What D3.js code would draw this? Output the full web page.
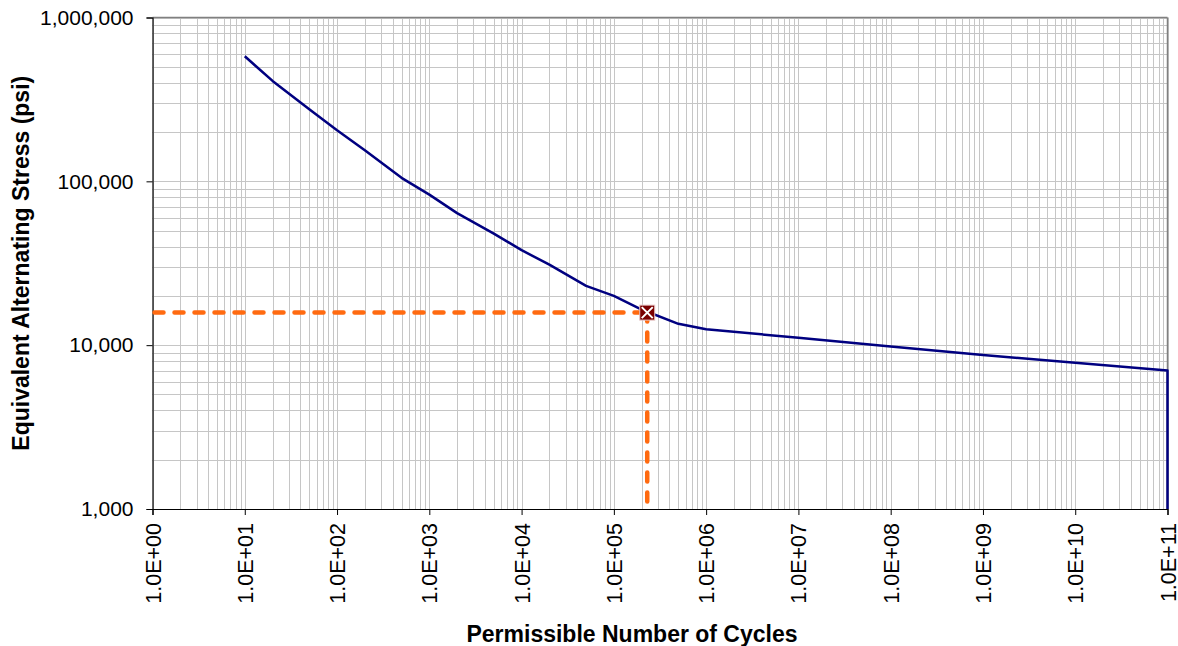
<!DOCTYPE html>
<html>
<head>
<meta charset="utf-8">
<script src="https://cdn.jsdelivr.net/npm/d3@7"></script>
<style>
  body { margin: 0; background: #fff; }
  svg { display: block; font-family: Arial, "Liberation Sans", sans-serif; }
</style>
</head>
<body>
<div id="chart"></div>
<script>
// fatigue curve points (cycles, psi)
var cycles = [10, 20, 50, 100, 200, 500, 1e3, 2e3, 5e3, 1e4, 2e4, 5e4, 1e5, 2e5, 5e5, 1e6,
              1e7, 1e8, 1e9, 1e10, 1e11, 1e11];
var stress = [580000, 410000, 275000, 205000, 155000, 105000, 83000, 64000, 48000, 38000,
              31000, 23000, 20000, 16500, 13500, 12500, 11100, 9800, 8700, 7800, 7000, 1000];

// design point
var pointCycles = [230000];
var pointStress = [15800];

var xTickValues = [1e0, 1e1, 1e2, 1e3, 1e4, 1e5, 1e6, 1e7, 1e8, 1e9, 1e10, 1e11];
var yTickValues = [1000, 10000, 100000, 1000000];

var width = 1178, height = 646;
var margin = {top: 17.5, right: 10.5, bottom: 137, left: 152.5};

var svg = d3.select('#chart').append('svg')
            .attr('width', width)
            .attr('height', height);

var x = d3.scaleLog().domain([1, 1e11]).range([margin.left, width - margin.right]);
var y = d3.scaleLog().domain([1000, 1e6]).range([height - margin.bottom, margin.top]);

// --- grid lines (major + minor per decade)
var xGrid = [], yGrid = [];
for (var e = 0; e < 11; e++) {
  for (var k = 1; k < 10; k++) xGrid.push(k * Math.pow(10, e));
}
xGrid.push(1e11);
for (var e = 3; e < 6; e++) {
  for (var k = 1; k < 10; k++) yGrid.push(k * Math.pow(10, e));
}
yGrid.push(1e6);

svg.append('g').selectAll('line').data(xGrid).enter().append('line')
   .attr('x1', d => Math.round(x(d)) + 0.5).attr('x2', d => Math.round(x(d)) + 0.5)
   .attr('y1', y(1000)).attr('y2', y(1e6))
   .attr('stroke', '#c6c6c6').attr('stroke-width', 1);

svg.append('g').selectAll('line').data(yGrid).enter().append('line')
   .attr('y1', d => Math.round(y(d)) + 0.5).attr('y2', d => Math.round(y(d)) + 0.5)
   .attr('x1', x(1)).attr('x2', x(1e11))
   .attr('stroke', '#c6c6c6').attr('stroke-width', 1);

// plot frame: top and right gray
svg.append('line').attr('x1', x(1)).attr('x2', x(1e11)).attr('y1', y(1e6)).attr('y2', y(1e6))
   .attr('stroke', '#808080').attr('stroke-width', 1.5);
svg.append('line').attr('x1', x(1e11)).attr('x2', x(1e11)).attr('y1', y(1e6)).attr('y2', y(1000))
   .attr('stroke', '#808080').attr('stroke-width', 1.5);

// --- axes
var xAxis = svg.append('g')
   .attr('transform', 'translate(0,' + y(1000) + ')')
   .call(d3.axisBottom(x).tickValues(xTickValues).tickSizeOuter(0).tickSize(6)
           .tickFormat(d => '1.0E+' + String(Math.round(Math.log10(d))).padStart(2, '0')));
xAxis.select('.domain').attr('stroke', '#000').attr('stroke-width', 1.2);
xAxis.selectAll('.tick line').attr('stroke', '#000');
xAxis.selectAll('text')
     .attr('font-size', 21.5).attr('fill', '#000')
     .attr('text-anchor', 'end')
     .attr('transform', 'rotate(-90)')
     .attr('x', -14).attr('y', 0).attr('dy', '0.35em');

var yAxis = svg.append('g')
   .attr('transform', 'translate(' + x(1) + ',0)')
   .call(d3.axisLeft(y).tickValues(yTickValues).tickSizeOuter(0).tickSize(6).tickPadding(13)
           .tickFormat(d3.format(',')));
yAxis.select('.domain').attr('stroke', '#000').attr('stroke-width', 1.2);
yAxis.selectAll('.tick line').attr('stroke', '#000');
yAxis.selectAll('text').attr('font-size', 21).attr('fill', '#000');

// --- guide lines to the design point
var px = x(pointCycles[0]), py = y(pointStress[0]);
svg.append('line')
   .attr('x1', x(1) + 2).attr('x2', px).attr('y1', py).attr('y2', py)
   .attr('stroke', '#ff6a10').attr('stroke-width', 4.5)
   .attr('stroke-dasharray', '9,11').attr('stroke-linecap', 'round');
svg.append('line')
   .attr('x1', px).attr('x2', px).attr('y1', py).attr('y2', y(1000))
   .attr('stroke', '#ff6a10').attr('stroke-width', 4.5)
   .attr('stroke-dasharray', '9,11').attr('stroke-linecap', 'round');

// --- fatigue curve
var pts = cycles.map((c, i) => [c, stress[i]]);
svg.append('path')
   .datum(pts)
   .attr('fill', 'none')
   .attr('stroke', '#000080')
   .attr('stroke-width', 2.5)
   .attr('stroke-linejoin', 'round')
   .attr('d', d3.line().x(d => x(d[0])).y(d => y(d[1])));

// --- design point marker
var m = svg.append('g').attr('transform', 'translate(' + px + ',' + py + ')');
m.append('rect').attr('x', -7.5).attr('y', -7.5).attr('width', 15).attr('height', 15)
 .attr('fill', '#7a0000').attr('stroke', '#e8c8c8').attr('stroke-width', 1);
m.append('path').attr('d', 'M-5.5,-5.5L5.5,5.5M-5.5,5.5L5.5,-5.5')
 .attr('stroke', '#fff').attr('stroke-width', 2);

// --- axis titles
svg.append('text')
   .attr('x', 632).attr('y', 642)
   .attr('text-anchor', 'middle')
   .attr('font-size', 23).attr('font-weight', 'bold')
   .text('Permissible Number of Cycles');

svg.append('text')
   .attr('transform', 'translate(29,' + (y(1000) + y(1e6)) / 2 + ') rotate(-90)')
   .attr('text-anchor', 'middle')
   .attr('font-size', 23).attr('font-weight', 'bold')
   .text('Equivalent Alternating Stress (psi)');
</script>
</body>
</html>
